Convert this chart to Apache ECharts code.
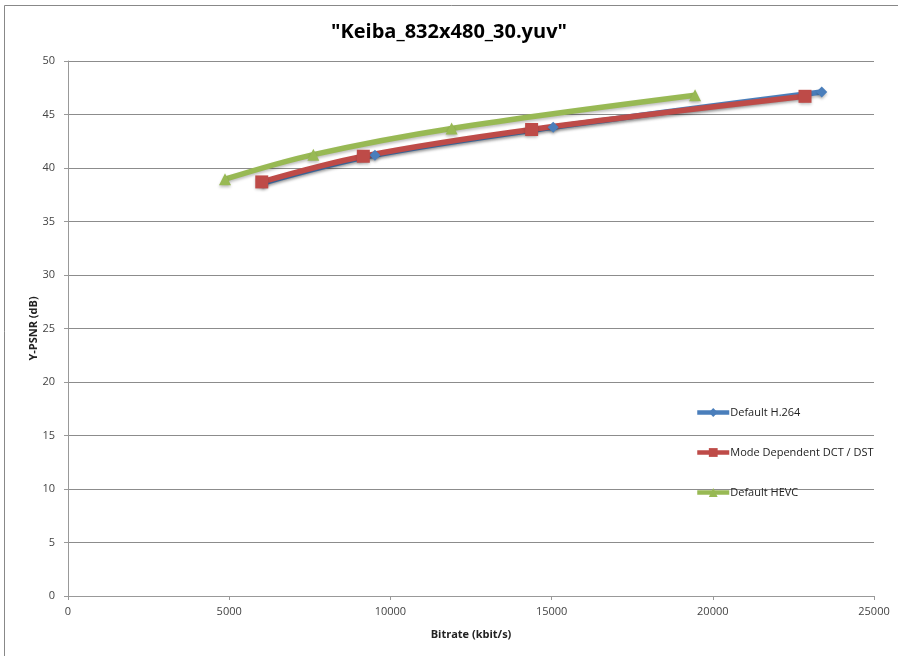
<!DOCTYPE html>
<html>
<head>
<meta charset="utf-8">
<script src="https://cdn.jsdelivr.net/npm/echarts@6/dist/echarts.min.js"></script>
<style>
  html, body { margin: 0; padding: 0; background: #fff; }
  #chart { width: 898px; height: 656px; }
</style>
</head>
<body>
<div id="chart"></div>
<script>
// Rate-distortion points: [bitrate kbit/s, Y-PSNR dB]
const h264 = [[6050, 38.6], [9520, 41.2], [15050, 43.8], [23380, 47.1]];
const mddt = [[6010, 38.7], [9160, 41.1], [14380, 43.6], [22860, 46.7]];
const hevc = [[4870, 38.95], [7610, 41.25], [11900, 43.7], [19450, 46.8]];

const seriesNames = ['Default H.264', 'Mode Dependent DCT / DST', 'Default HEVC'];
const xTicks = [0, 5000, 10000, 15000, 20000, 25000];
const yTicks = [0, 5, 10, 15, 20, 25, 30, 35, 40, 45, 50];

const chart = echarts.init(document.getElementById('chart'), null, { renderer: 'canvas' });

const fontFam = '"Open Sans", "DejaVu Sans", sans-serif';

function line(name, data, color, symbol, size) {
  return {
    name: name,
    type: 'line',
    data: data,
    smooth: 0.35,
    symbol: symbol,
    symbolSize: size,
    lineStyle: { color: color, width: 5.5, shadowColor: 'rgba(0,0,0,0.25)', shadowBlur: 3, shadowOffsetY: 2 },
    itemStyle: { color: color, shadowColor: 'rgba(0,0,0,0.25)', shadowBlur: 3, shadowOffsetY: 2 },
    emphasis: { disabled: true },
    z: 3
  };
}

chart.setOption({
  animation: false,
  backgroundColor: '#fff',
  title: {
    text: '"Keiba_832x480_30.yuv"',
    left: 'center',
    top: 17,
    textStyle: { fontFamily: fontFam, fontSize: 20, fontWeight: 'bold', color: '#000' }
  },
  graphic: [{
    type: 'rect',
    shape: { x: 4.5, y: 5.5, width: 900, height: 660 },
    style: { fill: 'none', stroke: '#888', lineWidth: 1 },
    silent: true
  }],
  legend: {
    orient: 'vertical',
    left: 690,
    top: 402,
    itemGap: 29,
    itemWidth: 32,
    itemHeight: 11,
    data: seriesNames,
    lineStyle: { width: 4.5 },
    textStyle: { fontFamily: fontFam, fontSize: 11, color: '#222', padding: [0, 0, 0, -4] }
  },
  grid: { left: 68, right: 24, top: 61, bottom: 60, containLabel: false },
  xAxis: {
    type: 'value',
    min: xTicks[0],
    max: xTicks[xTicks.length - 1],
    interval: 5000,
    name: 'Bitrate (kbit/s)',
    nameLocation: 'middle',
    nameGap: 33,
    nameTextStyle: { fontFamily: fontFam, fontSize: 11, fontWeight: 'bold', color: '#222' },
    axisLine: { show: true, lineStyle: { color: '#999' } },
    axisTick: { show: true, length: 4, lineStyle: { color: '#999' } },
    axisLabel: { fontFamily: fontFam, fontSize: 11, color: '#444', margin: 10, formatter: v => String(v) },
    splitLine: { show: false }
  },
  yAxis: {
    type: 'value',
    min: yTicks[0],
    max: yTicks[yTicks.length - 1],
    interval: 5,
    name: 'Y-PSNR (dB)',
    nameLocation: 'middle',
    nameGap: 29,
    nameMoveOverlap: false,
    nameTextStyle: { fontFamily: fontFam, fontSize: 11, fontWeight: 'bold', color: '#222' },
    axisLine: { show: true, lineStyle: { color: '#999' } },
    axisTick: { show: true, length: 4, lineStyle: { color: '#999' } },
    axisLabel: { fontFamily: fontFam, fontSize: 11, color: '#444', margin: 13 },
    splitLine: { show: true, lineStyle: { color: '#8c8c8c', width: 1 } }
  },
  series: [
    line(seriesNames[0], h264, '#4a7ebb', 'diamond', 11),
    line(seriesNames[1], mddt, '#be4b48', 'rect', 13),
    line(seriesNames[2], hevc, '#98b954', 'triangle', 12)
  ]
});
</script>
</body>
</html>
